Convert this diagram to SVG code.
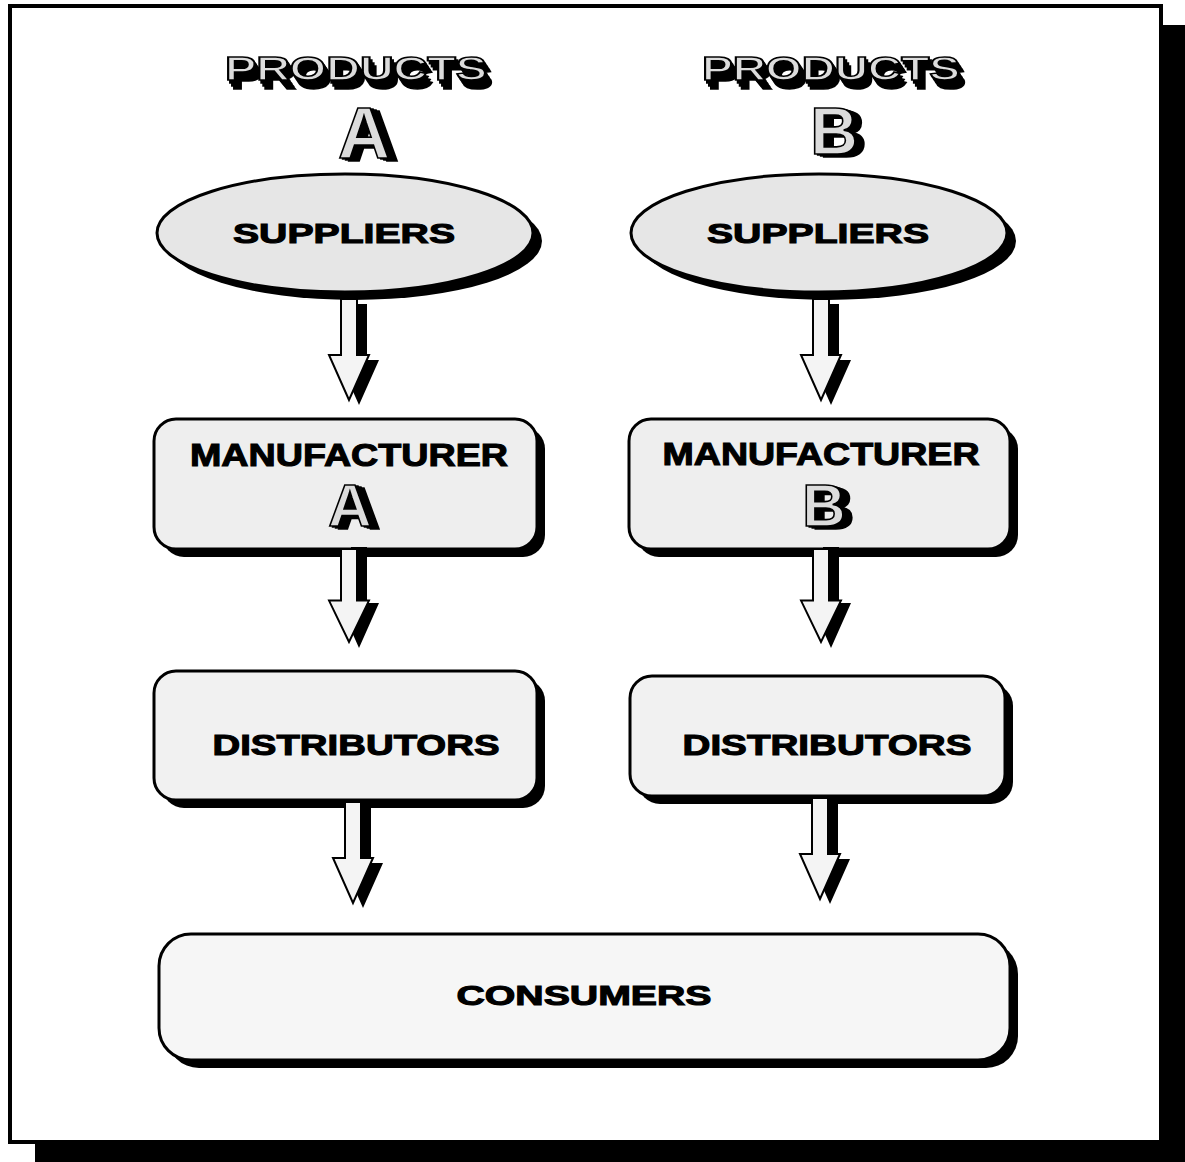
<svg xmlns="http://www.w3.org/2000/svg" width="1185" height="1162" viewBox="0 0 1185 1162">
<style>
.lbl{font-family:"Liberation Sans",Arial,sans-serif;font-weight:900;fill:#000;stroke:#000;stroke-width:1.1;text-anchor:middle}
.big{font-family:"Liberation Sans",Arial,sans-serif;font-weight:900;text-anchor:middle;fill:#dcdcdc;stroke:#000;stroke-width:1.6;filter:url(#extrude)}
.node{stroke:#000;stroke-width:3}
.shadow{fill:#000}
.arrow{fill:#f4f4f4;stroke:#000;stroke-width:2;stroke-linejoin:miter}
</style>
<defs>
<filter id="extrude" x="-20%" y="-20%" width="150%" height="160%">
<feOffset in="SourceAlpha" dx="2" dy="3" result="o1"/>
<feOffset in="SourceAlpha" dx="4" dy="6" result="o2"/>
<feOffset in="SourceAlpha" dx="6" dy="9" result="o3"/>
<feMerge><feMergeNode in="o1"/><feMergeNode in="o2"/><feMergeNode in="o3"/><feMergeNode in="SourceGraphic"/></feMerge>
</filter>
<filter id="extrudeR" x="-20%" y="-20%" width="160%" height="150%">
<feOffset in="SourceAlpha" dx="3" dy="1" result="o1"/>
<feOffset in="SourceAlpha" dx="6" dy="2" result="o2"/>
<feOffset in="SourceAlpha" dx="9" dy="3" result="o3"/>
<feMerge><feMergeNode in="o1"/><feMergeNode in="o2"/><feMergeNode in="o3"/><feMergeNode in="SourceGraphic"/></feMerge>
</filter>
<path id="arr" d="M-8,0 L8,0 L8,56 L20,56 L0,101 L-20,56 L-8,56 Z"/>
</defs>
<rect x="0" y="0" width="1185" height="1162" fill="#fff"/>
<g id="frame">
<rect x="35" y="25" width="1150" height="1137" fill="#000"/>
<rect x="10" y="6" width="1151" height="1136" fill="#fff" stroke="#000" stroke-width="4"/>
</g>
<g id="title-a">
<text class="big" x="356" y="80" font-size="34" textLength="262" lengthAdjust="spacingAndGlyphs">PRODUCTS</text>
<text class="big" x="364" y="158" font-size="72" style="filter:url(#extrudeR)">A</text>
</g>
<g id="title-b">
<text class="big" x="831" y="80" font-size="34" textLength="258" lengthAdjust="spacingAndGlyphs">PRODUCTS</text>
<text class="big" x="834" y="154" font-size="66" style="filter:url(#extrudeR)">B</text>
</g>
<g id="suppliers-a">
<ellipse class="shadow" cx="354" cy="241" rx="188" ry="59"/>
<ellipse class="node" cx="345" cy="233" rx="188" ry="59" fill="#e6e6e6"/>
<text class="lbl" x="344" y="243" font-size="28" textLength="222" lengthAdjust="spacingAndGlyphs">SUPPLIERS</text>
</g>
<g id="suppliers-b">
<ellipse class="shadow" cx="828" cy="241" rx="188" ry="59"/>
<ellipse class="node" cx="819" cy="233" rx="188" ry="59" fill="#e6e6e6"/>
<text class="lbl" x="818" y="243" font-size="28" textLength="222" lengthAdjust="spacingAndGlyphs">SUPPLIERS</text>
</g>
<g id="manufacturer-a">
<rect class="shadow" x="162" y="427" width="383" height="130" rx="22"/>
<rect class="node" x="154" y="419" width="383" height="130" rx="22" fill="#eeeeee"/>
<text class="lbl" x="349" y="466" font-size="32" textLength="318" lengthAdjust="spacingAndGlyphs">MANUFACTURER</text>
<text class="big" x="350" y="526" font-size="60" style="filter:url(#extrudeR)">A</text>
</g>
<g id="manufacturer-b">
<rect class="shadow" x="637" y="427" width="381" height="130" rx="22"/>
<rect class="node" x="629" y="419" width="381" height="130" rx="22" fill="#eeeeee"/>
<text class="lbl" x="821" y="465" font-size="32" textLength="317" lengthAdjust="spacingAndGlyphs">MANUFACTURER</text>
<text class="big" x="824" y="526" font-size="60" style="filter:url(#extrudeR)">B</text>
</g>
<g id="distributors-a">
<rect class="shadow" x="162" y="679" width="383" height="129" rx="22"/>
<rect class="node" x="154" y="671" width="383" height="129" rx="22" fill="#f1f1f1"/>
<text class="lbl" x="356" y="755" font-size="30" textLength="287" lengthAdjust="spacingAndGlyphs">DISTRIBUTORS</text>
</g>
<g id="distributors-b">
<rect class="shadow" x="638" y="684" width="375" height="120" rx="22"/>
<rect class="node" x="630" y="676" width="375" height="120" rx="22" fill="#f1f1f1"/>
<text class="lbl" x="827" y="755" font-size="30" textLength="289" lengthAdjust="spacingAndGlyphs">DISTRIBUTORS</text>
</g>
<g id="consumers">
<rect class="shadow" x="167" y="942" width="851" height="126" rx="32"/>
<rect class="node" x="159" y="934" width="851" height="126" rx="32" fill="#f6f6f6"/>
<text class="lbl" x="584" y="1005" font-size="28" textLength="255" lengthAdjust="spacingAndGlyphs">CONSUMERS</text>
</g>
<g id="connectors">
<g transform="translate(349,299)"><use href="#arr" class="shadow" transform="translate(10,5)"/><use href="#arr" class="arrow"/></g>
<g transform="translate(821,299)"><use href="#arr" class="shadow" transform="translate(10,5)"/><use href="#arr" class="arrow"/></g>
<g transform="translate(349,549)"><use href="#arr" class="shadow" transform="translate(10,-2)"/><use href="#arr" class="arrow" transform="scale(1,0.92)"/></g>
<g transform="translate(821,549)"><use href="#arr" class="shadow" transform="translate(10,-2)"/><use href="#arr" class="arrow" transform="scale(1,0.92)"/></g>
<g transform="translate(353,802)"><use href="#arr" class="shadow" transform="translate(10,5)"/><use href="#arr" class="arrow"/></g>
<g transform="translate(820,798)"><use href="#arr" class="shadow" transform="translate(10,5)"/><use href="#arr" class="arrow"/></g>
</g>
</svg>
